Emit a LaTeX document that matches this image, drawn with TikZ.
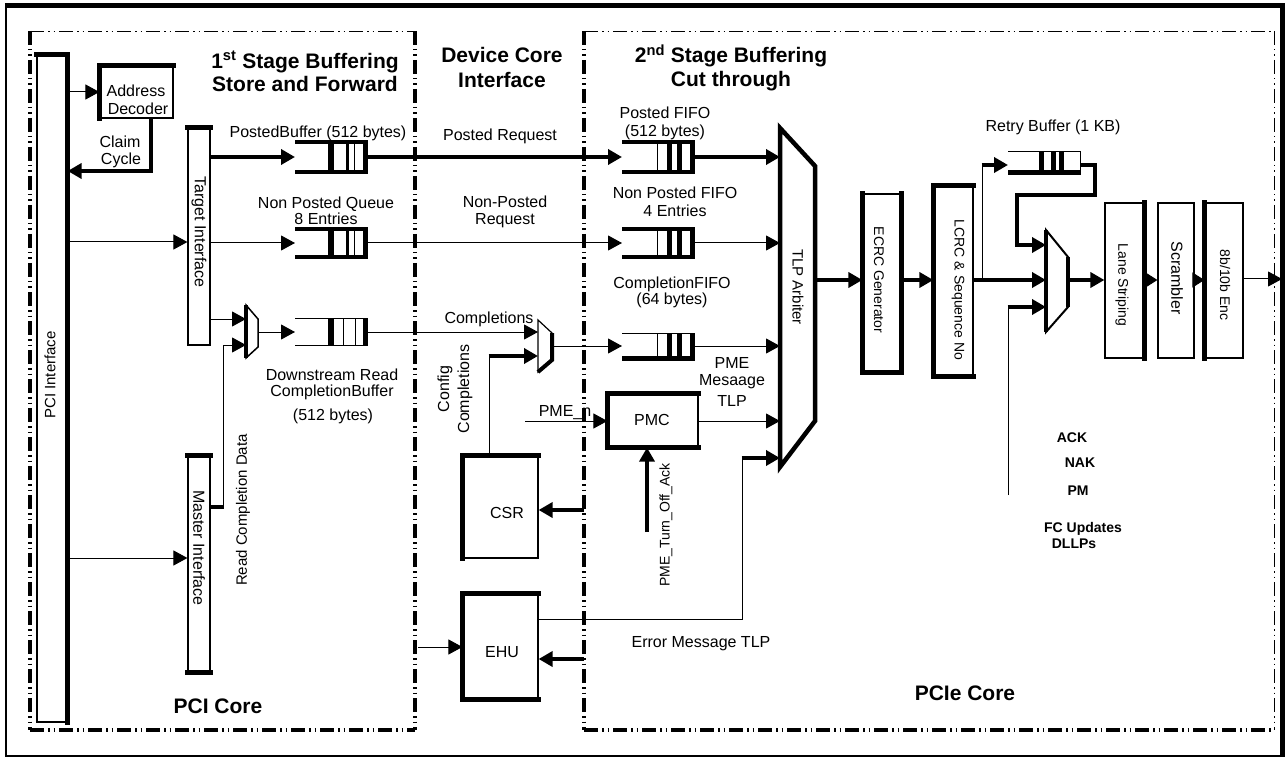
\documentclass[tikz,border=0pt]{standalone}
\usepackage{fontspec}
\setmainfont{Liberation Sans}
\usetikzlibrary{arrows.meta}
\newcommand\myfifo[7]{%
  \node[inner sep=0pt, minimum width=73pt, minimum height=#4pt, anchor=west] (#1) at (#2,#3) {};
  \draw[line width=#5pt] (#1.north west) -- (#1.north east);
  \draw[line width=#6pt] (#1.south west) -- (#1.south east);
  \foreach \fo/\fw in {#7} {\draw[line width=\fw] ([xshift=\fo]#1.north west) -- ([xshift=\fo]#1.south west);}%
}
\begin{document}
\begin{tikzpicture}[x=1pt,y=-1pt,
  ln/.style={line width=1pt},
  tk/.style={line width=4.5pt},
  arr/.style={-{Triangle[length=14pt,width=15pt]}},
  sarr/.style={-{Triangle[length=12pt,width=15pt]}},
  bedge/.style={line width=4.5pt, line cap=rect},
  boxn/.style={draw, line width=1.2pt, inner sep=0pt, font=\fontsize{16}{18}\selectfont},
  lbl/.style={inner sep=0pt, anchor=base, font=\fontsize{16}{18}\selectfont},
  ttl/.style={inner sep=0pt, anchor=base, font=\bfseries\fontsize{21}{25}\selectfont},
  rlbl/.style={inner sep=0pt, align=center, font=\fontsize{14}{16}\selectfont},
  dlbl/.style={inner sep=0pt, anchor=base, font=\bfseries\fontsize{14}{16}\selectfont},
  ddthin/.style={line width=0.9pt, dash pattern=on 14pt off 4pt on 1.5pt off 4pt on 1.5pt off 4pt},
  ddthick/.style={line width=3.5pt, dash pattern=on 14pt off 4pt on 1.5pt off 4pt on 1.5pt off 4pt},
]
\useasboundingbox (0,0) rectangle (1287,759);
% outer frame
\draw[line width=2.5pt] (6,6) rectangle (1282,756);
\draw[line width=5pt] (4.75,5.5) -- (1282,5.5) -- (1282,757.25);
% regions
\draw[ddthin] (30,31) -- (415,31);
\draw[ddthick] (30,31) -- (30,730);
\draw[ddthick] (30,730) -- (415,730);
\draw[ddthick] (415,31) -- (415,730);
\draw[ddthin] (584,31) -- (1274,31);
\draw[ddthick] (584,31) -- (584,730);
\draw[ddthick] (584,730) -- (1274,730);
\draw[ddthin] (1274,31) -- (1274,730);
% titles
\node[ttl] (t1a) at (305,68.5) {1\textsuperscript{st} Stage Buffering};
\node[ttl] (t1b) at (305,92) {Store and Forward};
\node[ttl] (t2a) at (502,63) {Device Core};
\node[ttl] (t2b) at (502,88) {Interface};
\node[ttl] (t3a) at (731,63) {2\textsuperscript{nd} Stage Buffering};
\node[ttl] (t3b) at (731,87) {Cut through};
\node[ttl] (pcic) at (218,713) {PCI Core};
\node[ttl] (pciec) at (965,700) {PCIe Core};
% boxes
\node[boxn, minimum width=30pt, minimum height=667pt] (bar) at (52,388.5) {};
\draw[bedge] (bar.north west) -- (bar.north east) -- (bar.south east);
\node[rlbl, rotate=90, font=\fontsize{15}{17}\selectfont] (barl) at (50,375) {PCI Interface};
\node[boxn, minimum width=73pt, minimum height=52pt] (addr) at (136.5,92) {};
\draw[bedge] (addr.south west) -- (addr.north west) -- (addr.north east);
\node[lbl] (addra) at (136,97) {Address};
\node[lbl] (addrb) at (138,114.5) {Decoder};
\node[boxn, minimum width=22pt, minimum height=217pt] (target) at (199,236.5) {};
\draw[bedge] (target.north west) -- (target.north east);
\node[rlbl, rotate=-90, font=\fontsize{16}{18}\selectfont] (targetl) at (199,232) {Target Interface};
\node[boxn, minimum width=22pt, minimum height=216pt] (master) at (199,564) {};
\draw[bedge] (master.north west) -- (master.north east);
\draw[bedge] (master.south west) -- (master.south east);
\node[rlbl, rotate=-90, font=\fontsize{16}{18}\selectfont] (masterl) at (199,548) {Master Interface};
\node[rlbl, rotate=90, font=\fontsize{15}{17}\selectfont] (rdcl) at (243,510) {Read Completion Data};
\node[boxn, minimum width=90pt, minimum height=53pt] (pmc) at (653,420.5) {};
\draw[bedge] (pmc.north east) -- (pmc.north west) -- (pmc.south west) -- (pmc.south east);
\node[lbl] (pmct) at (652,425) {PMC};
\node[boxn, minimum width=75pt, minimum height=102pt] (csr) at (500.5,507) {};
\draw[bedge] (csr.south west) -- (csr.north west) -- (csr.north east);
\node[lbl] (csrt) at (507,518) {CSR};
\node[boxn, minimum width=75pt, minimum height=105pt] (ehu) at (500.5,646.5) {};
\draw[bedge] (ehu.north east) -- (ehu.north west) -- (ehu.south west) -- (ehu.south east);
\node[lbl] (ehut) at (502,657) {EHU};
\node[rlbl, rotate=90, font=\fontsize{16}{20}\selectfont] (cfgl) at (455,389) {Config\\Completions};
\node[rlbl, rotate=90, font=\fontsize{14}{16}\selectfont] (pmel) at (666,525) {PME\_Turn\_Off\_Ack};
% PCIe side boxes
\node[boxn, minimum width=38pt, minimum height=178pt] (b1) at (882,283) {};
\draw[bedge] (b1.north west) -- (b1.south west) -- (b1.south east) -- (b1.north east);
\node[rlbl, rotate=-90] (b1l) at (879,280) {ECRC Generator};
\node[boxn, minimum width=39pt, minimum height=190pt] (b2) at (953.5,281) {};
\draw[bedge] (b2.north east) -- (b2.north west) -- (b2.south west) -- (b2.south east);
\node[rlbl, rotate=-90] (b2l) at (958,290) {LCRC \& Sequence No};
\node[boxn, minimum width=39pt, minimum height=155pt] (b3) at (1124.5,280.5) {};
\draw[bedge] (b3.north east) -- (b3.south east);
\node[rlbl, rotate=-90] (b3l) at (1122,285) {Lane Striping};
\node[boxn, minimum width=36pt, minimum height=155pt] (b4) at (1176,280.5) {};
\node[rlbl, rotate=-90, font=\fontsize{16}{18}\selectfont] (b4l) at (1177,278) {Scrambler};
\node[boxn, minimum width=38pt, minimum height=155pt] (b5) at (1224,280.5) {};
\draw[bedge] (b5.north west) -- (b5.south west);
\node[rlbl, rotate=-90] (b5l) at (1225,285) {8b/10b Enc};
% trapezoid arbiter
\draw[line width=4.5pt] (780,128) -- (815,166) -- (815,421) -- (780,467) -- cycle;
\coordinate (trapL) at (780,297);
\coordinate (trapR) at (815,280);
\node[rlbl, rotate=-90, font=\fontsize{15}{17}\selectfont] (trapl) at (798,287) {TLP Arbiter};
% muxes
\draw[line width=1.5pt] (246,305) -- (258,319) -- (258,347) -- (246,358) -- cycle;
\draw[line width=4pt] (246,305) -- (246,358);
\coordinate (m1a) at (246,319); \coordinate (m1b) at (246,345); \coordinate (m1o) at (258,332);
\draw[line width=1.2pt] (538,320) -- (552,333) -- (552,360) -- (538,372) -- cycle;
\draw[line width=4pt] (552,333) -- (552,360) -- (538,372);
\coordinate (m2a) at (538,332); \coordinate (m2b) at (538,356); \coordinate (m2o) at (552,346);
\draw[line width=2pt] (1046,230) -- (1068,257) -- (1068,307) -- (1046,332) -- cycle;
\draw[line width=4.5pt] (1046,230) -- (1046,332);
\draw[line width=4.5pt] (1068,257) -- (1068,307);
\coordinate (m3a) at (1046,245); \coordinate (m3b) at (1046,280); \coordinate (m3c) at (1046,307); \coordinate (m3o) at (1068,280);
% fifos
\myfifo{pbuf}{295}{157}{30}{4.5}{4.5}{36pt/6pt,52pt/3pt,59pt/1pt,70pt/5pt}
\myfifo{npq}{295}{243}{28}{4.5}{4.5}{36pt/6pt,52pt/3pt,59pt/1pt,70pt/5pt}
\myfifo{drc}{295}{332}{26}{1}{1}{36pt/6pt,48pt/1pt,60pt/1pt,70pt/5pt}
\myfifo{pfifo}{622}{157}{30}{4.5}{4.5}{35pt/1pt,47pt/5pt,57pt/5pt,70pt/5pt}
\myfifo{npfifo}{622}{243}{28}{4.5}{4.5}{35pt/1pt,47pt/5pt,57pt/5pt,70pt/5pt}
\myfifo{cfifo}{622}{346}{25}{1}{4.5}{35pt/1pt,47pt/5pt,57pt/5pt,70pt/5pt}
\myfifo{retry}{1008}{162}{21}{1}{4.5}{33pt/5pt,45pt/5pt,53pt/5pt,72pt/1pt}
% labels
\node[lbl] (claima) at (120,148) {Claim};
\node[lbl] (claimb) at (121,165) {Cycle};
\node[lbl] (pbufl) at (318,137.5) {PostedBuffer (512 bytes)};
\node[lbl] (npqa) at (326,208.5) {Non Posted Queue};
\node[lbl] (npqb) at (326,225) {8 Entries};
\node[lbl] (drca) at (332,380) {Downstream Read};
\node[lbl] (drcb) at (332,396.7) {CompletionBuffer};
\node[lbl] (drcc) at (333,420) {(512 bytes)};
\node[lbl] (preq) at (500,141) {Posted Request};
\node[lbl] (npra) at (505,208) {Non-Posted};
\node[lbl] (nprb) at (505,225) {Request};
\node[lbl] (pfa) at (665,119) {Posted FIFO};
\node[lbl] (pfb) at (665,137) {(512 bytes)};
\node[lbl] (npfa) at (675,199) {Non Posted FIFO};
\node[lbl] (npfb) at (675,216.7) {4 Entries};
\node[lbl] (cfa) at (672,288) {CompletionFIFO};
\node[lbl] (cfb) at (672,305) {(64 bytes)};
\node[lbl] (cpl) at (489,323) {Completions};
\node[lbl] (pmea) at (732,368) {PME};
\node[lbl] (pmeb) at (732,385) {Mesaage};
\node[lbl] (pmec) at (732,406.7) {TLP};
\node[lbl] (pmen) at (565,416.7) {PME\_n};
\node[lbl] (errl) at (701,647) {Error Message TLP};
\node[lbl] (retl) at (1053,132) {Retry Buffer (1 KB)};
\node[dlbl] (dl1) at (1072,442) {ACK};
\node[dlbl] (dl2) at (1080,467) {NAK};
\node[dlbl] (dl3) at (1078,495) {PM};
\node[dlbl] (dl4) at (1083,532) {FC Updates};
\node[dlbl] (dl5) at (1074,548) {DLLPs};
% connectors, PCI side
\draw[ln,arr] (bar.east |- addr.west) -- (addr.west);
\coordinate (cl1) at (151,171);
\draw[tk,arr] (addr.south -| cl1) -- (cl1) -- (bar.east |- cl1);
\coordinate (ytg) at (120,242);
\draw[ln,arr] (bar.east |- ytg) -- (target.west |- ytg);
\coordinate (ymr) at (120,558);
\draw[ln,arr] (bar.east |- ymr) -- (master.west |- ymr);
\draw[tk,arr] (target.east |- pbuf.west) -- (pbuf.west);
\draw[ln,arr] (target.east |- npq.west) -- (npq.west);
\draw[ln,arr] (target.east |- m1a) -- (m1a);
\coordinate (mt) at (223,507); \coordinate (mc) at (223,345);
\draw[tk] (master.east |- mt) -- ([xshift=1pt]mt);
\draw[ln,arr] (mt) -- (mc) -- (m1b);
\draw[ln,arr] (m1o) -- (drc.west);
% device core interface
\draw[tk,arr] (pbuf.east) -- (pfifo.west);
\draw[ln,arr] (npq.east) -- (npfifo.west);
\draw[ln,arr] (drc.east) -- (m2a);
\coordinate (cb) at (489,356);
\draw[ln] (csr.north -| cb) -- (cb);
\draw[tk,arr] ([xshift=-0.5pt]cb) -- (m2b);
\draw[ln,arr] (m2o) -- (cfifo.west);
\coordinate (pmes) at (525,421);
\draw[ln,arr] (pmes) -- (pmc.west |- pmes);
\draw[ln,arr] (pmc.east |- pmes) -- (trapL |- pmes);
\coordinate (pmcin) at (647,532);
\draw[tk,arr] (pmcin) -- (pmc.south -| pmcin);
\coordinate (csrin) at (584,510);
\draw[tk,arr] (csrin) -- (csr.east |- csrin);
\coordinate (ehul) at (418,647);
\draw[ln,arr] (ehul) -- (ehu.west |- ehul);
\coordinate (ehur) at (584,659);
\draw[tk,arr] (ehur) -- (ehu.east |- ehur);
\coordinate (eh1) at (742,619); \coordinate (eh2) at (742,458);
\draw[ln] (ehu.east |- eh1) -- (eh1) -- (eh2);
\draw[tk,arr] ([xshift=-0.5pt]eh2) -- (trapL |- eh2);
% PCIe side
\draw[tk,arr] (pfifo.east) -- (trapL |- pfifo.east);
\draw[ln,arr] (npfifo.east) -- (trapL |- npfifo.east);
\draw[ln,arr] (cfifo.east) -- (trapL |- cfifo.east);
\draw[tk,arr] (trapR) -- (b1.west |- trapR);
\draw[tk,arr] (b1.east |- trapR) -- (b2.west |- trapR);
\draw[tk,arr] (b2.east |- m3b) -- (m3b);
\coordinate (br) at (982,280); \coordinate (br2) at (982,165);
\draw[ln] (br) -- (br2);
\draw[tk,arr] ([xshift=-0.5pt]br2) -- (retry.west |- br2);
\coordinate (r1) at (1095,165); \coordinate (r2) at (1095,195);
\coordinate (r3) at (1017,195); \coordinate (r4) at (1017,245);
\draw[tk,arr] (retry.east |- r1) -- (r1) -- (r2) -- (r3) -- (r4) -- (m3a);
\coordinate (dlb) at (1008,495); \coordinate (dlt) at (1008,307);
\draw[ln] (dlb) -- (dlt);
\draw[tk,arr] ([xshift=-0.5pt]dlt) -- (m3c);
\draw[tk,arr] (m3o) -- (b3.west |- m3o);
\draw[ln,sarr] (b3.east |- m3o) -- (b4.west |- m3o);
\draw[ln,sarr] (b4.east |- m3o) -- (b5.west |- m3o);
\coordinate (outp) at (1282,279);
\draw[ln,arr] (b5.east |- outp) -- (outp);
\end{tikzpicture}
\end{document}
